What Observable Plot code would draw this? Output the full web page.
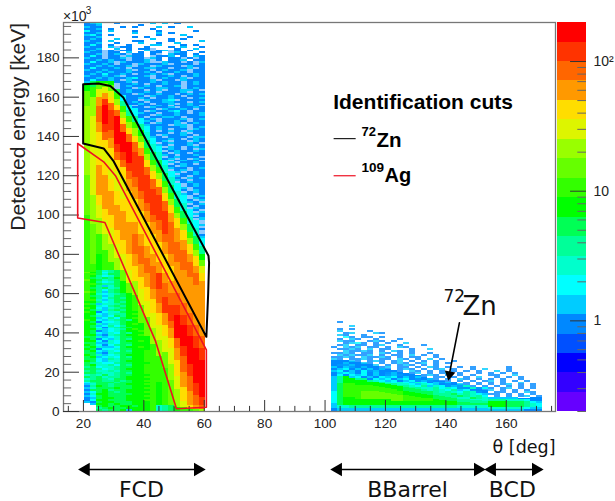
<!DOCTYPE html>
<html><head><meta charset="utf-8">
<script src="https://cdn.jsdelivr.net/npm/d3@7"></script>
<script src="https://cdn.jsdelivr.net/npm/@observablehq/plot@0.6"></script>
<style>
html,body{margin:0;padding:0;background:#fff}
#wrap{position:relative;width:615px;height:501px;overflow:hidden}
#wrap svg{position:absolute;left:0;top:0;background:transparent;overflow:visible}
</style></head><body><div id="wrap"></div>
<script>
// colour levels: boundaries (counts) and colours, bottom to top
const bounds=[0.2,0.28,0.4,0.56,0.79,1.12,1.58,2.24,3.16,4.47,6.31,8.91,12.6,17.8,25.1,35.5,50.1,70.8,100,141,200];
const palette=["#6600ff","#3300ff","#0000ff","#0050ff","#0088ff","#00ccff","#00ffff","#00ffcc","#00ff99","#00ff55","#00ff00","#33ff00","#66ff00","#99ff00","#ddf500","#ffdd00","#ff9900","#ff6600","#ff3300","#ff0000"];
const levelCounts=[null,0.24,0.33,0.47,0.66,0.95,1.3,1.9,2.6,3.8,5.4,7.5,10.5,15,21,30,42,60,85,120,170];

// FCD: theta start of each 2 degree column, then runs [top energy, level] from bottom up
const fcdStart=[20.3,22.3,24.3,26.3,28.3,30.3,32.3,34.3,36.3,38.3,40.3,42.3,44.3,46.3,48.3,50.3,52.3,54.3,56.3,58.3];
const fcdRuns=[
[[4,0],[7,6],[12,8],[25,10],[45,11],[70,12],[100,12],[120,13],[140,14],[155,14],[163,13],[167,11]],
[[3,0],[7,6],[12,8],[30,10],[50,11],[75,12],[95,13],[110,14],[125,15],[150,15],[160,14],[165,12],[168,10]],
[[3,6],[15,8],[30,9],[50,7],[65,9],[80,11],[90,12],[98,14],[105,15],[110,16],[125,17],[130,16],[135,15],[142,16],[147,17],[155,18],[160,17],[164,15],[167,13],[168,11]],
[[3,6],[12,9],[28,8],[50,7],[60,8],[70,10],[82,12],[90,14],[97,15],[103,16],[120,17],[126,16],[133,15],[138,16],[142,18],[146,19],[156,20],[159,19],[162,17],[165,15],[167,13],[168,11]],
[[3,6],[12,9],[25,8],[45,7],[55,8],[65,10],[76,12],[85,14],[93,15],[100,16],[112,17],[118,16],[128,15],[134,16],[139,17],[143,18],[153,19],[157,18],[160,16],[163,15],[166,13],[168,11]],
[[3,6],[15,9],[30,8],[42,7],[50,8],[60,10],[70,12],[78,14],[85,15],[92,16],[105,17],[112,16],[122,15],[128,16],[132,18],[136,19],[150,20],[153,18],[156,16],[159,14],[162,12],[164,10]],
[[3,6],[15,10],[30,9],[45,8],[55,9],[63,11],[72,13],[80,15],[87,16],[102,17],[108,16],[118,15],[124,16],[128,18],[132,19],[142,20],[146,18],[149,16],[152,14],[155,12],[158,9],[161,7]],
[[3,6],[15,10],[35,9],[48,9],[57,11],[65,13],[72,15],[80,16],[96,17],[102,16],[112,16],[118,17],[122,18],[126,19],[137,20],[141,18],[144,16],[147,14],[150,12],[153,9],[156,7]],
[[3,7],[20,10],[40,9],[51,10],[59,12],[66,14],[74,16],[80,17],[90,18],[96,17],[108,16],[114,17],[119,18],[132,19],[137,18],[140,16],[144,14],[147,12],[150,9],[154,7]],
[[3,7],[20,11],[35,10],[45,11],[54,13],[62,15],[68,16],[75,17],[84,18],[90,17],[102,16],[108,17],[112,18],[124,19],[130,19],[134,17],[137,15],[140,13],[143,11],[146,9],[149,7]],
[[3,7],[20,11],[38,11],[48,13],[56,15],[63,16],[70,17],[78,18],[84,17],[96,16],[102,17],[106,18],[120,19],[124,18],[128,16],[131,14],[134,12],[138,10],[142,8],[145,7]],
[[3,8],[20,11],[34,12],[42,14],[50,15],[57,16],[62,17],[74,18],[80,17],[90,16],[96,17],[100,18],[113,19],[118,18],[122,16],[125,14],[128,12],[132,10],[136,8],[139,7]],
[[3,8],[15,11],[28,12],[36,14],[44,15],[50,16],[55,17],[62,18],[70,19],[76,17],[86,16],[92,17],[97,18],[110,19],[114,18],[118,16],[121,14],[124,12],[128,10],[132,8],[135,7]],
[[3,9],[22,12],[30,13],[38,15],[44,16],[50,17],[58,19],[65,18],[70,17],[80,16],[86,17],[90,18],[102,19],[107,18],[111,16],[114,14],[117,12],[121,10],[125,8],[128,7]],
[[3,10],[16,13],[24,14],[32,15],[37,16],[42,17],[46,18],[54,19],[60,18],[66,17],[74,16],[80,17],[85,18],[96,18],[101,17],[105,16],[108,14],[111,12],[115,10],[119,8],[122,7]],
[[2,11],[11,14],[18,15],[26,16],[32,17],[37,18],[49,20],[54,19],[60,18],[68,17],[76,17],[86,18],[93,17],[98,16],[101,14],[104,12],[108,10],[112,8],[116,7]],
[[2,12],[5,15],[12,16],[20,17],[28,18],[33,19],[44,20],[49,19],[55,18],[64,17],[72,17],[82,18],[87,17],[92,16],[95,14],[98,12],[102,10],[106,8],[110,7]],
[[1,12],[3,16],[10,17],[18,18],[24,19],[38,20],[44,19],[50,18],[60,17],[68,17],[76,18],[80,17],[85,16],[88,14],[91,12],[95,10],[99,8],[103,7]],
[[1,13],[3,17],[8,18],[14,19],[32,20],[38,19],[44,18],[54,17],[64,17],[70,18],[74,17],[79,16],[82,14],[85,12],[89,10],[93,8],[97,7]],
[[1,14],[3,18],[7,19],[26,20],[32,19],[38,18],[50,17],[60,17],[66,17],[70,16],[74,15],[77,13],[80,11],[84,9],[88,7]]
];

// FCD dense-blue area: top energy of the pale background in each column
const fcdBaseTop=[198,198,198,184,180,186,181,185,179,183,180,185,182,178,184,179,183,177,181,176];

// FCD upper sparse region: 1k rows from 198k down, right-aligned to the last column ('.' = empty)
const fcdUpper=[
"567..5.....6.6.5....","556......5..........","655...5.5...6.5..6..","556.5......5........","755.6...5...5.....5.",
"556.....6...6.5.....","675.5.......5...6...","556.....5.5......5..","565..6.....6..5.5...","655.6...55....5....6",
"556..5...6..5..6....","575.5..5...66...5.5.","655.6.55..5...5.6..5","556..6.5.55....5..6.","565.5.55..6.56.5.5..",
"655.55.6.5.55..65..5","556.565.55.5..655.5.","575.55.655..556.5.65","655.556.55.65.55.5.5","5565655.556.5.556.55",
"57556.65556..655.5.6","65565.55.65556.555.5","55656556.55.6555.655","5755565.556655.556.5","65565556.55.56556.55",
"556565565565.5565.55","56575565.55656.55565","655656.5556.5565.565","55656556755.56556.55","575565.65556.55.6555",
"65565556.5565655.565",
"5565.55655.565","565565.556.555","55.6556655.565","5655.56.55665.","565565.5556.55","55.655655.5656","6555.65565.555",
"5565.55655.56","55.65567.5555","565.556655.56","5565.556.5655","6.55565.5565.","555.6556.5565","56555.65565.5",
"55.655675.55","5655.5565.56","555.65565556","65.55665.555","5556.5556.56",
"565.5565.55","55.6556.565","56555.66.55","5.565556.56",
"5565.55.65","55.565.655","6555.56.55","55.65565.5","565.555.66","5.5565.565",
"556.55.65","5.565565.","565.556.5","55.65.565",
"5565.5.6","5.565565","55.65.55","565.5565","5.56555.","556.5.65","55.5655.",
"56.5565","5.565.5","55.6555","5655.56","5.56.55","556.565",
"5.5565","565.55","55.656","565.55","5.5655","55.565",
"5.565","56.55","55.65","5.565","565.5","55.56",
"5.65","55.6","565.","5.56","55.5","5.65","565.",
"5.6","565","5.5","556","5.6","55.",
"5.","56","5.","55","6.","5.","55","56","5."
];

// FCD lower-left region: 1k rows from 72k down, left-aligned from the first column; characters are levels in base 21
const fcdLower=[
"cca89a","dba79a","cca8aa","cb978a","ca9a9b","dba89a",
"cb978ab","cca99ab","cb968ab","ca9a89b","cb979ab","dc969ab",
"cb8789ab","ca968aab","cb979a9b","cc868aab","bb978a9b","ca6889ab","bb879a9b","cb7689ab",
"ba869a9bc","cb5788abb","bb76899bc","ba867a9bb","bb6797abc","cb7689a9b","ba5778abb","bb8688abc","ba67979bb","ba7589aab","bb86789bc",
"ba5678abbc","ba7687a9bb","bb6589abbc","aa8678aabb","ba5768a9bb","bb7587abbc","aa6687aabb","ba7579a9bb","ab8667abbc","ba5778aabb",
"ab7687a9bbc","aa6589aabbc","ba8678abbbc","ab6787a9bbc","aa7698aabbc","ba7688abbbc","a98779aabbb","ab8897a9bbc","9a7889aabbc","aa9789abbbc",
"9a8898aabbcc","aa9889a9bbcc","898a89aabbbc","a9a899abbbcc","89a98aabbbbc","9aa99a9abbcc","79aaa9aabbbc","68aa9aabbbcc","59ba9aaabbbc","68aaabaabbcc",
"5aab9aabbbbc","67aba9abbbcc","58bbaaaabbbc","67abaaabbbcc","56abbaabbbbc","57bbaaabbbcc","65abbaaabbbc",
"..bbabaabbbc","..abaabbabbc","..9abaabbbbc","..a9aab.bbbc"
];

// BBarrel and BCD: theta start of each column and runs [top energy, level]
const barrelStart=[102,104,106,108,110,112,114,116,118,120,122,124,126,128,130,132,134,136,138,140,142,144,146,148,150,152,154,156,158,160,162,164,166,168,170];
const barrelRuns=[
[[1.5,5],[4,6],[10,7],[18,6],[26,5]],
[[1.5,6],[3,8],[8,10],[14,10],[18,9],[22,6],[26,5]],
[[1.5,6],[3,8],[7,11],[14,12],[18,11],[20,9],[23,6],[26,5]],
[[1.5,6],[3,9],[7,11],[14,12],[17,11],[19,9],[22,6],[25.5,5]],
[[1.5,6],[3,9],[6,11],[13,12],[16,11],[18,9],[21,6],[25,5]],
[[1.5,6],[3,9],[6,11],[10,13],[13,12],[16,11],[18,9],[20.5,6],[24.5,5]],
[[1.5,6],[3,9],[6,11],[10,13],[13,12],[15,11],[17,9],[20,6],[24,5]],
[[1.5,6],[3,9],[6,11],[10,13],[12.5,12],[15,11],[16.5,9],[19,6],[23,5]],
[[1.5,6],[3,9],[6,11],[9.5,13],[12,12],[14,11],[16,9],[18.5,6],[22,5]],
[[1.5,6],[3,9],[6,11],[9,13],[11.5,12],[13.5,11],[15,9],[18,6],[21.5,5]],
[[1.5,6],[3,9],[5,11],[8.5,13],[11,12],[13,11],[14.5,9],[17,6],[21,5]],
[[1.5,6],[3,9],[5,11],[8,13],[10,12],[12.5,11],[14,9],[16.5,6],[20,5]],
[[1.5,6],[3,9],[5,11],[8,12],[10,11],[12,10],[13.5,9],[16,6],[19.5,5]],
[[1.5,6],[3,9],[5,11],[7.5,12],[9.5,11],[11.5,10],[13,9],[15.5,6],[19,5]],
[[1.5,6],[3,9],[5,11],[7,12],[9,11],[11,10],[12.5,9],[15,6],[18.5,5]],
[[1.5,6],[3,9],[5,11],[6.5,12],[8.5,11],[10.5,10],[12,9],[14.5,6],[17.5,5]],
[[1.5,6],[3,9],[5,11],[6.5,12],[8,11],[10,10],[11,9],[13.5,6],[17,5]],
[[1.5,6],[3,9],[6,11],[8,10],[9.5,9],[11,8],[13,6],[16,5]],
[[1.5,6],[3,9],[5.5,11],[7.5,10],[9,9],[10.5,8],[12.5,6],[15.5,5]],
[[1.5,6],[3,9],[5,11],[7,10],[8.5,9],[10,8],[12,6],[15,5]],
[[1.5,6],[3,9],[5,11],[6.5,10],[8,9],[9.5,8],[11.5,6],[14,5]],
[[1.5,6],[3,8],[4.5,10],[6,9],[7.5,8],[9.5,6],[11,6],[13.5,5]],
[[1.5,6],[3,8],[4.5,10],[6,9],[7,8],[9,6],[11,6],[13,5]],
[[1.5,6],[3,8],[4,10],[5.5,9],[7,8],[8.5,6],[10.5,6],[12,5]],
[[1.5,6],[3,8],[4,10],[5.5,9],[6.5,8],[8,6],[10,6],[11.5,5]],
[[1.5,6],[3,8],[4,10],[5,9],[6,8],[7.5,6],[9,6],[10.5,5]],
[[1,6],[2,8],[5,11],[6,9],[7,6]],[[1,6],[2,8],[5,11],[6,9],[7,6]],[[1,6],[2,8],[5,11],[6,9],[7,6]],
[[1,6],[2,8],[5,10],[6,8],[7,6]],[[1,6],[2,8],[5,10],[6,8],[7,6]],[[1,6],[2,8],[5,10],[6,8],[6.5,5]],
[[1,5],[2,7],[5,9],[6,7],[6.5,5]],[[1,5],[2,6],[4,8],[5,7],[7,5]],[[1,5],[2,6],[4,7],[5,6],[7,5]]
];
// Barrel transition zone between green and blue: 1k rows from 24k down
const barrelMid=[
"567","65675","5675656","67565765","5676575656",".75767565756","...675657675656",
".....9576756756","......98767567656","........9878768756765","..........9887687656",
"............98796876578","..............988978796867","...............98987967",
".................9898798","...................9a8987",".....................a9897",
".......................a98"
];
// Barrel sparse region: 1k rows from 46k down, left-aligned from the first column
const barrelSparse=[
".5","","...6","",".5.5",".6....5","..56...65",".65..5","..75.55.5",".5.65..5...5",".655..565.5",
"..5675.5.5..6",".56.55.56..5...5","5.656.55.5.65",".5565.6.55...5..6","..65565.5.65.5","5565.55.65.5.5..5",
".656556.5.55.6.5.5","5565.65565.5.55..5","65.5565.55.65.5.6.5",".5565.565.56.5.5.5..5","5565565.5.565.56.5.5",
".5565.56.5.565.5.5","...5565.56.55.5.65.5.5.5.....5","....65.565.565.5.56.5..5.6...5","......565.55.65.5.5.5.5.5..6.5",
"........5565.56.5.56.5..5.5.5.5",".........565.5.565.5.5.5..55..6","...........5.565.55.5.5.6..5.5.5",".............55.65.5.65.5.5.5..5",
"..............565.55.5.5.56.5.5.5","................5.565.5.5.5.5..6","..................55.65.5.5.56.5.5","...................565.5.5.5.5.5.5",
".....................55.5.5.56.5.5",".......................5.56.5.5.5","........................55.55.5.65","..........................55.5.5.5.5","...........................5.5.56.5.5"
];

// cut polygons
const zn72Theta=[19.9,25,28.9,33.2,61.4,61.6,61.3,60.7,29.9,26.7,19.9,19.9];
const zn72Energy=[166.6,166.9,165.7,159.8,79.3,75.8,60,38,127.6,133.9,136.4,166.6];
const ag109Theta=[18.1,26.7,30.6,60.7,60.7,50.8,43.8,27.1,18.1,18.1];
const ag109Energy=[136.4,127.1,120,31.4,2.2,1.4,36.1,96.2,98.5,136.4];

// axis ticks
const xMajor=[20,40,60,80,100,120,140,160];
const xMinor=[15,25,30,35,45,50,55,65,70,75,85,90,95,105,110,115,125,130,135,145,150,155,165,170,175];
const yMajor=[0,20,40,60,80,100,120,140,160,180];
const yMinor=[4,8,12,16,24,28,32,36,44,48,52,56,64,68,72,76,84,88,92,96,104,108,112,116,124,128,132,136,144,148,152,156,164,168,172,176,184,188,192,196];
const barMajor=[1,10,100];
const barMinor=[0.2,0.3,0.4,0.5,0.6,0.7,0.8,0.9,2,3,4,5,6,7,8,9,20,30,40,50,60,70,80,90];

// build cells
function runCells(starts,runs,w){
  const out=[];
  runs.forEach((col,i)=>{
    let e0=0;
    col.forEach(([e1,l])=>{
      if(l>0) out.push({x1:starts[i],x2:starts[i]+w,y1:e0,y2:e1,count:levelCounts[l]});
      e0=e1;
    });
  });
  return out;
}
function gridCells(starts,rows,topE,w,rightAligned){
  const out=[];
  rows.forEach((row,r)=>{
    const off=rightAligned?starts.length-row.length:0;
    [...row].forEach((c,j)=>{
      const i=j+off;
      if(c!=="."&&i>=0&&i<starts.length) out.push({x1:starts[i],x2:starts[i]+w,y1:topE-(r+1),y2:topE-r,count:levelCounts[parseInt(c,21)]});
    });
  });
  return out;
}
const baseCells=fcdStart.map((x,i)=>({x1:x,x2:x+2.02,y1:88,y2:fcdBaseTop[i],count:levelCounts[5]}));
const cells=[
  ...gridCells(fcdStart,fcdUpper,198,2.02,true),
  ...runCells(fcdStart,fcdRuns,2.02),
  ...gridCells(fcdStart,fcdLower,72,2.02,false),
  ...runCells(barrelStart,barrelRuns,2),
  ...gridCells(barrelStart,barrelMid,24,2,false)
];
const sparseCells=gridCells(barrelStart,barrelSparse,46,2,false);

const colorScale={type:"threshold",domain:bounds.slice(1,-1),range:palette};
const tickC="#333",minorC="#666",txt="#222",frameC="#777",cutRed="#ee1122";
const sans="'Liberation Sans',Arial,sans-serif",dv="'DejaVu Sans',sans-serif";
const big={fontSize:22,fontFamily:dv,fill:"#111"};
const bold=(s)=>({fontSize:s,fontWeight:"bold",fill:"#000",textAnchor:"start"});
const head=(x,y,rotate,r=5)=>Plot.dot([[x,y]],{x:"0",y:"1",symbol:"triangle",r,fill:"#000",rotate});
const heat={x1:"x1",x2:"x2",y1:"y1",y2:"y2",fill:"count",shapeRendering:"crispEdges",imageFilter:"blur(0.55px)"};

const main=Plot.plot({
  width:615,height:501,marginLeft:63,marginRight:60,marginTop:22,marginBottom:90,
  style:{background:"transparent",fontFamily:sans},
  x:{domain:[13.4,176.3],label:null},
  y:{domain:[0,198],label:null},
  color:colorScale,
  marks:[
    Plot.rect(baseCells,{...heat,fillOpacity:0.45}),
    Plot.rect(cells,heat),
    Plot.rect(sparseCells,{...heat,fillOpacity:0.8}),
    Plot.frame({stroke:frameC,strokeWidth:1.3}),
    Plot.ruleX(xMajor,{y1:0,y2:5.6,stroke:tickC,strokeWidth:1}),
    Plot.ruleX(xMinor,{y1:0,y2:2.6,stroke:tickC,strokeWidth:1}),
    Plot.ruleY(yMajor,{x1:13.4,x2:18.7,stroke:tickC,strokeWidth:1}),
    Plot.ruleY(yMinor,{x1:13.4,x2:16.1,stroke:minorC,strokeWidth:1}),
    Plot.axisX({ticks:xMajor,tickSize:0,tickPadding:7,fontSize:13.6,label:null,fill:txt}),
    Plot.axisY({ticks:yMajor,tickSize:0,tickPadding:4,fontSize:13.6,label:null,fill:txt}),
    Plot.line(zn72Theta.map((x,i)=>[x,zn72Energy[i]]),{x:"0",y:"1",stroke:"#000",strokeWidth:2}),
    Plot.line(ag109Theta.map((x,i)=>[x,ag109Energy[i]]),{x:"0",y:"1",stroke:cutRed,strokeWidth:1.6}),
    Plot.text(["×10"],{x:13.2,y:201.3,textAnchor:"start",fontSize:14,fill:txt}),
    Plot.text(["3"],{x:20.8,y:203.8,textAnchor:"start",fontSize:10,fill:txt}),
    Plot.text(["Detected energy [keV]"],{x:-1.5,y:144.9,rotate:-90,fontSize:21,fill:"#222"}),
    Plot.text(["Identification cuts"],{x:102.7,y:157.6,...bold(21)}),
    Plot.text(["72"],{x:112.05,y:142.3,...bold(13)}),
    Plot.text(["Zn"],{x:117,y:138.1,...bold(20.5)}),
    Plot.text(["109"],{x:112.05,y:124,...bold(13.5)}),
    Plot.text(["Ag"],{x:119.7,y:120.1,...bold(20)}),
    Plot.ruleY([138.9],{x1:103,x2:110.3,stroke:"#222",strokeWidth:1.2}),
    Plot.ruleY([120],{x1:103,x2:110.3,stroke:cutRed,strokeWidth:1.2}),
    Plot.text(["72"],{x:139.2,y:58.5,fontSize:17,fontFamily:dv,fill:"#111",textAnchor:"start"}),
    Plot.text(["Zn"],{x:145.5,y:53.4,fontSize:26,fontFamily:dv,fill:"#111",textAnchor:"start"}),
    Plot.line([[144.5,45.2],[141.3,20]],{x:"0",y:"1",stroke:"#000",strokeWidth:1.6}),
    head(141.2,18.8,191,4),
    Plot.text(["θ [deg]"],{x:176.3,y:-18.3,textAnchor:"end",fontSize:17.5,fontFamily:dv,fill:"#111"}),
    Plot.ruleY([-29.5],{x1:20.8,x2:57.9,stroke:"#000",strokeWidth:1.5}),
    head(20.8,-29.5,-90),head(57.9,-29.5,90),
    Plot.ruleY([-29.5],{x1:104.3,x2:150.6,stroke:"#000",strokeWidth:1.5}),
    head(104.3,-29.5,-90),head(150.6,-29.5,90),
    Plot.ruleY([-29.5],{x1:155.3,x2:169.8,stroke:"#000",strokeWidth:1.5}),
    head(155.3,-29.5,-90),head(169.8,-29.5,90),
    Plot.text(["FCD"],{x:39.2,y:-40,...big}),
    Plot.text(["BBarrel"],{x:127.3,y:-40,...big}),
    Plot.text(["BCD"],{x:162,y:-40,...big})
  ]
});

const barCells=palette.map((c,i)=>({y1:bounds[i],y2:bounds[i+1],count:levelCounts[i+1]}));
const bar=Plot.plot({
  width:615,height:501,marginLeft:557,marginRight:29,marginTop:22,marginBottom:90,
  style:{background:"transparent",fontFamily:sans},
  x:{domain:[0,1],axis:null},
  y:{type:"log",domain:[0.2,200],axis:null},
  color:colorScale,
  marks:[
    Plot.rect(barCells,{x1:0,x2:1,y1:"y1",y2:"y2",fill:"count",shapeRendering:"crispEdges"}),
    Plot.ruleY(barMajor,{x1:0.45,x2:1,stroke:tickC,strokeWidth:1}),
    Plot.ruleY(barMinor,{x1:0.7,x2:1,stroke:minorC,strokeWidth:1}),
    Plot.text(["1","10","10²"],{x:1,y:barMajor,dx:7,textAnchor:"start",fontSize:14,fill:txt})
  ]
});
document.getElementById("wrap").append(main,bar);
</script></body></html>
